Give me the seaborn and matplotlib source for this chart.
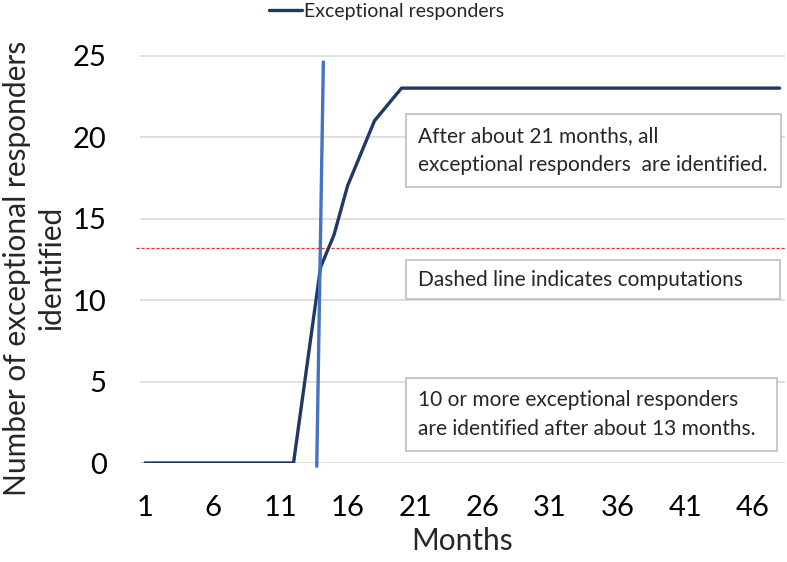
import numpy as np
import pandas as pd
import matplotlib
matplotlib.use("Agg")
import matplotlib.pyplot as plt
from matplotlib.patches import Rectangle
import seaborn as sns

# data
months = list(range(1, 49))
responders = [0, 0, 0, 0, 0, 0, 0, 0, 0, 0, 0, 0,
              6, 12, 14, 17, 19, 21, 22, 23, 23, 23, 23, 23,
              23, 23, 23, 23, 23, 23, 23, 23, 23, 23, 23, 23,
              23, 23, 23, 23, 23, 23, 23, 23, 23, 23, 23, 23]
marker_x = [13.72, 14.21]
marker_y = [-0.2, 24.6]
comp_x = [0.33, 48.4]
comp_y = [13.2, 13.2]
x_ticks = [1, 6, 11, 16, 21, 26, 31, 36, 41, 46]
y_ticks = [0, 5, 10, 15, 20, 25]

notes = [
    ("After about 21 months, all\nexceptional responders  are identified.", (406, 114, 781, 187)),
    ("Dashed line indicates computations", (406, 260, 780, 299)),
    ("10 or more exceptional responders\nare identified after about 13 months.", (406, 378, 777, 451)),
]

sns.set_theme(style="white")
plt.rcParams["font.family"] = ["Lato", "DejaVu Sans"]

W, H = 787, 562
fig = plt.figure(figsize=(W / 100, H / 100), dpi=100)
left, right, bottom, top = 140, 785, 463, 49
ax = fig.add_axes([left / W, 1 - bottom / H, (right - left) / W, (bottom - top) / H])

df = pd.DataFrame({"Months": months, "Responders": responders})
sns.lineplot(data=df, x="Months", y="Responders", ax=ax, color="#203864",
             linewidth=2.4, label="Exceptional responders", zorder=3)
ax.plot(marker_x, marker_y, color="#4472C4", linewidth=2.4, clip_on=False, zorder=4)
ax.plot(comp_x, comp_y, color="#E8302A", linewidth=0.9, linestyle=(0, (2.5, 1.5)),
        clip_on=False, zorder=2)

ax.set_xlim(0.63, 48.4)
ax.set_ylim(0, 25.4)
ax.set_xticks(x_ticks)
ax.set_yticks(y_ticks)
ax.yaxis.grid(True, color="#D9D9D9", linewidth=1.2)
ax.set_axisbelow(True)
for s in ax.spines.values():
    s.set_visible(False)
ax.tick_params(axis="both", length=0, labelsize=21, colors="#000000")
ax.tick_params(axis="x", pad=23)
ax.tick_params(axis="y", pad=24)
ax.set_xlabel("Months", fontsize=21.5, labelpad=4)
ax.set_ylabel("Number of exceptional responders\nidentified", fontsize=21.5,
              linespacing=1.3)
ax.yaxis.set_label_coords(-0.115, 0.471)

leg = ax.legend(loc="center", bbox_to_anchor=(387 / W, 1 - 11 / H),
                bbox_transform=fig.transFigure, frameon=False, fontsize=14,
                handlelength=1.7, handletextpad=0.1)

for txt, (x0, y0, x1, y1) in notes:
    fig.patches.append(Rectangle((x0 / W, 1 - y1 / H), (x1 - x0) / W, (y1 - y0) / H,
                                 transform=fig.transFigure, facecolor="white",
                                 edgecolor="#BFBFBF", linewidth=1.2, zorder=5))
    fig.text((x0 + 12) / W, 1 - (y0 + y1) / 2 / H, txt, fontsize=15, va="center",
             ha="left", linespacing=1.55, zorder=6)

fig.savefig("out.png", dpi=100)
